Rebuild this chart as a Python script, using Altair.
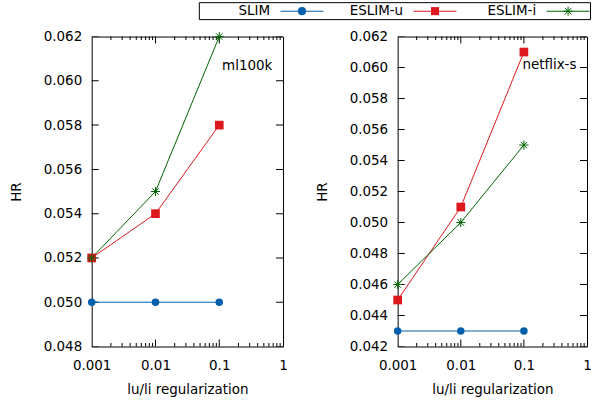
import altair as alt
import pandas as pd

# ---------------- data ----------------
x_vals = [0.001, 0.01, 0.1]
series = ["SLIM", "ESLIM-u", "ESLIM-i"]
colors = ["#0060ad", "#dd181f", "#006400"]

ml100k_slim = [0.050, 0.050, 0.050]
ml100k_eslim_u = [0.052, 0.054, 0.058]
ml100k_eslim_i = [0.052, 0.055, 0.062]

netflix_slim = [0.043, 0.043, 0.043]
netflix_eslim_u = [0.045, 0.051, 0.061]
netflix_eslim_i = [0.046, 0.050, 0.055]

x_ticks = [0.001, 0.01, 0.1, 1]
x_major_inner = [0.01, 0.1]
x_minor = [0.002, 0.003, 0.004, 0.005, 0.006, 0.007, 0.008, 0.009,
           0.02, 0.03, 0.04, 0.05, 0.06, 0.07, 0.08, 0.09,
           0.2, 0.3, 0.4, 0.5, 0.6, 0.7, 0.8, 0.9]
y_ticks_ml = [0.048, 0.050, 0.052, 0.054, 0.056, 0.058, 0.060, 0.062]
y_ticks_nf = [0.042, 0.044, 0.046, 0.048, 0.050, 0.052, 0.054, 0.056,
              0.058, 0.060, 0.062]

panel_names = ["ml100k", "netflix-s"]
label_x = [0.68, 0.68]
label_y = [0.0605, 0.0599]

FONT = "DejaVu Sans"
FS = 13.5
H = 311

asterisk = "M-1,0L1,0M0,-1L0,1M-0.707,-0.707L0.707,0.707M-0.707,0.707L0.707,-0.707"
color_scale = alt.Scale(domain=series, range=colors)
SIZES = {"circle": 56, "square": 76, "star": 85}


def make_panel(idx, vals, yticks, W):
    rows = []
    for s, v in zip(series, vals):
        for xv, yv in zip(x_vals, v):
            rows.append({"series": s, "x": xv, "hr": yv})
    df = pd.DataFrame(rows)
    lab = pd.DataFrame({"x": [label_x[idx]], "hr": [label_y[idx]], "name": [panel_names[idx]]})

    xlo, xhi = x_ticks[0], x_ticks[-1]
    ylo, yhi = yticks[0], yticks[-1]
    ytick_df = pd.DataFrame([{"x": e, "hr": v} for e in (xlo, xhi) for v in yticks])
    xmaj_df = pd.DataFrame([{"x": v, "hr": e} for e in (ylo, yhi) for v in x_major_inner])
    xmin_df = pd.DataFrame([{"x": v, "hr": e} for e in (ylo, yhi) for v in x_minor])

    xs = alt.Scale(type="log", domain=[xlo, xhi], nice=False)
    ys = alt.Scale(domain=[ylo, yhi], nice=False, zero=False)
    col = alt.Color("series:N", scale=color_scale, legend=None)

    ax_main = alt.Axis(values=x_ticks, format="~g", ticks=False,
                       labelPadding=12, labelFlush=False, labelOverlap=False, domain=False,
                       grid=False, title="lu/li regularization", titlePadding=11)
    ay_main = alt.Axis(values=yticks, format=".3f", ticks=False,
                       labelPadding=10, labelOverlap=False, domain=False, grid=False,
                       title="HR", titlePadding=20)
    X = alt.X("x:Q", scale=xs, axis=ax_main)
    Y = alt.Y("hr:Q", scale=ys, axis=ay_main)

    ytick_layer = alt.Chart(ytick_df).mark_tick(
        orient="horizontal", size=14, thickness=1, color="black", clip=True, opacity=1
    ).encode(x=X, y=Y)
    xmaj_layer = alt.Chart(xmaj_df).mark_tick(
        orient="vertical", size=14, thickness=1, color="black", clip=True, opacity=1
    ).encode(x=X, y=Y)
    xmin_layer = alt.Chart(xmin_df).mark_tick(
        orient="vertical", size=7, thickness=1, color="black", clip=True, opacity=1
    ).encode(x=X, y=Y)

    base = alt.Chart(df)
    lines = base.mark_line(strokeWidth=1).encode(x=X, y=Y, color=col, order="x:Q")
    circles = base.transform_filter(alt.datum.series == "SLIM").mark_point(
        shape="circle", filled=True, size=SIZES["circle"], opacity=1
    ).encode(x=X, y=Y, color=col)
    squares = base.transform_filter(alt.datum.series == "ESLIM-u").mark_point(
        shape="square", filled=True, size=SIZES["square"], opacity=1
    ).encode(x=X, y=Y, color=col)
    stars = base.transform_filter(alt.datum.series == "ESLIM-i").mark_point(
        shape=asterisk, filled=False, size=SIZES["star"], opacity=1, strokeWidth=1
    ).encode(x=X, y=Y, color=col)
    text = alt.Chart(lab).mark_text(align="right", baseline="alphabetic", font=FONT,
                                    fontSize=FS, color="black").encode(
        x=X, y=Y, text="name:N")

    layers = [ytick_layer, xmaj_layer, xmin_layer, lines, circles, squares, stars, text]
    return alt.layer(*layers).properties(width=W, height=H)


# ---------------- key (legend) row ----------------
LEG_W, LEG_H = 501, 17
leg_df = pd.DataFrame({"series": series})
lx = alt.X("series:N", scale=alt.Scale(type="point", domain=series, range=[211, 478], padding=0),
           axis=None)
ly = alt.value(LEG_H / 2)
lcol = alt.Color("series:N", scale=color_scale, legend=None)
leg_base = alt.Chart(leg_df)

key_box = alt.Chart(pd.DataFrame({"k": [0]})).mark_rect(
    fill="white", fillOpacity=0, stroke="black", strokeWidth=1
).encode(x=alt.value(108), x2=alt.value(LEG_W - 0.5), y=alt.value(0), y2=alt.value(LEG_H))
key_text = leg_base.mark_text(align="right", baseline="middle", dx=-32, font=FONT,
                              fontSize=FS, color="black").encode(x=lx, y=ly, text="series:N")
key_line = leg_base.mark_tick(orient="horizontal", size=43, thickness=1, opacity=1).encode(
    x=lx, y=ly, color=lcol)
key_filled = leg_base.transform_filter(alt.datum.series != "ESLIM-i").mark_point(
    filled=True, opacity=1, size=66
).encode(x=lx, y=ly, color=lcol,
         shape=alt.Shape("series:N", scale=alt.Scale(domain=["SLIM", "ESLIM-u"],
                                                     range=["circle", "square"]), legend=None))
key_star = leg_base.transform_filter(alt.datum.series == "ESLIM-i").mark_point(
    shape=asterisk, filled=False, opacity=1, size=SIZES["star"], strokeWidth=1
).encode(x=lx, y=ly, color=lcol)

key = alt.layer(key_box, key_line, key_filled, key_star, key_text).properties(
    width=LEG_W, height=LEG_H, view=alt.ViewBackground(strokeOpacity=0))

left = make_panel(0, [ml100k_slim, ml100k_eslim_u, ml100k_eslim_i], y_ticks_ml, 192)
right = make_panel(1, [netflix_slim, netflix_eslim_u, netflix_eslim_i], y_ticks_nf, 190)

chart = alt.vconcat(key, alt.hconcat(left, right, spacing=26), spacing=8).properties(
    padding={"left": 8, "top": 1, "right": 0, "bottom": 5}
).configure_view(stroke="black", strokeWidth=1).configure_axis(
    labelFont=FONT, labelFontSize=FS, labelColor="black",
    titleFont=FONT, titleFontSize=FS, titleFontWeight="normal", titleColor="black",
)

chart.save("out.html", embed_options={"renderer": "svg", "actions": False})
